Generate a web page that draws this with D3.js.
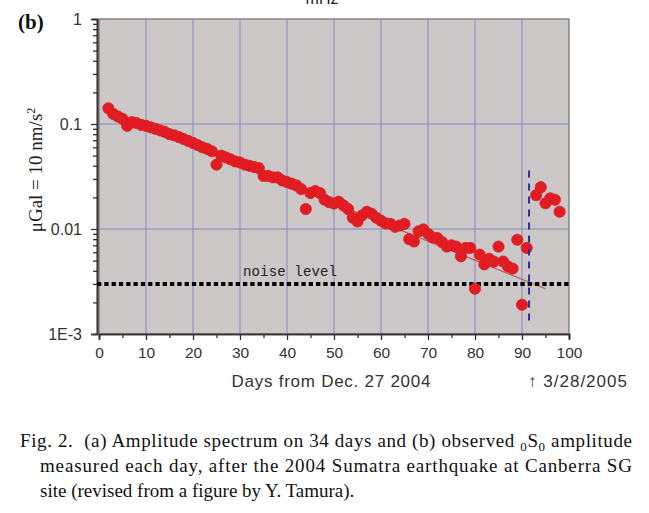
<!DOCTYPE html>
<html><head><meta charset="utf-8">
<script src="https://cdn.jsdelivr.net/npm/d3@7"></script>
<style>
html,body{margin:0;padding:0;background:#fff;}
svg{display:block;}
</style></head>
<body>
<svg id="chart" width="649" height="513"></svg>
<script>
// ---- data ----
const days = [2,3,4,5,6,7,8,9,10,11,12,13,14,15,16,17,18,19,20,21,22,23,24,25,26,27,28,29,30,31,32,33,34,35,36,37,38,39,40,41,42,43,44,45,46,47,48,49,50,51,52,53,54,55,56,57,58,59,60,61,62,63,64,65,66,67,68,69,70,71,72,73,74,75,76,77,78,79,80,81,82,83,84,85,86,87,88,89,90,91,93,94,95,96,97,98];
const amplitudes = [0.141,0.125,0.118,0.112,0.096,0.104,0.102,0.098,0.096,0.093,0.090,0.087,0.084,0.080,0.078,0.075,0.072,0.069,0.066,0.063,0.060,0.058,0.055,0.041,0.050,0.048,0.046,0.044,0.043,0.041,0.040,0.039,0.038,0.032,0.032,0.031,0.031,0.029,0.028,0.027,0.026,0.024,0.0155,0.022,0.023,0.022,0.019,0.018,0.0175,0.0182,0.0168,0.0155,0.0128,0.0118,0.0135,0.0146,0.0140,0.0128,0.0120,0.0113,0.0112,0.0105,0.0108,0.0112,0.0080,0.0076,0.0095,0.0099,0.0090,0.0083,0.0082,0.0075,0.0068,0.0070,0.0068,0.0055,0.0066,0.0066,0.0027,0.0057,0.0046,0.0052,0.0049,0.0068,0.0049,0.0044,0.0042,0.0079,0.0019,0.0066,0.021,0.025,0.0176,0.0196,0.019,0.0146];
const fitDays = [2, 95];
const fitValues = [0.13, 0.0027];
const noiseLevel = 0.003;
const markerDay = 91.5;
const markerRange = [0.00127, 0.036];
const xTicks = [0,10,20,30,40,50,60,70,80,90,100];
const xMinorTicks = [5,15,25,35,45,55,65,75,85,95];
const yTicks = [1, 0.1, 0.01, 0.001];
const yTickLabels = ["1", "0.1", "0.01", "1E-3"];
const yMinorTicks = [2,3,4,5,6,7,8,9].flatMap(m => [m*0.001, m*0.01, m*0.1]);

const svg = d3.select("#chart");
const x = d3.scaleLinear().domain([0,100]).range([99,569]);
const y = d3.scaleLog().domain([0.001,1]).range([334,19]);

// partial top text (cut off at the top edge in the original)
svg.append("text").attr("x",322).attr("y",4).attr("text-anchor","middle")
  .attr("font-family","Liberation Sans, Arial, sans-serif").attr("font-size",16).attr("fill","#222").text("mHz");

// plot background
svg.append("rect").attr("x",x(0)).attr("y",y(1)).attr("width",x(100)-x(0)).attr("height",y(0.001)-y(1))
  .attr("fill","#ccc8c8").attr("stroke","#6e6e6e").attr("stroke-width",1.2);

// grid
const grid = svg.append("g");
grid.selectAll("line.gx").data(xTicks.filter(d=>d>0&&d<100)).join("line")
  .attr("x1",d=>x(d)).attr("x2",d=>x(d)).attr("y1",y(1)).attr("y2",y(0.001))
  .attr("stroke","#8686c4").attr("stroke-width",1);
grid.selectAll("line.gy").data([0.1,0.01]).join("line")
  .attr("x1",x(0)).attr("x2",x(100)).attr("y1",d=>y(d)).attr("y2",d=>y(d))
  .attr("stroke","#8686c4").attr("stroke-width",1);

// axes
const fontTick = "Liberation Sans, Arial, sans-serif";
const yAxisMajor = d3.axisLeft(y).tickValues(yTicks).tickFormat((d,i)=>yTickLabels[i]).tickSize(6).tickPadding(9);
const yAxisMinor = d3.axisLeft(y).tickValues(yMinorTicks).tickFormat("").tickSize(4);
const gyMin = svg.append("g").attr("transform","translate(97,0)").call(yAxisMinor);
const gy = svg.append("g").attr("transform","translate(97,0)").call(yAxisMajor);
[gy,gyMin].forEach(g=>{
  g.select(".domain").attr("stroke","#333").attr("stroke-width",1.6);
  g.selectAll(".tick line").attr("stroke","#333").attr("stroke-width",1.3);
});
gy.selectAll(".tick text").attr("font-family",fontTick).attr("font-size",16).attr("fill","#333");

const xAxisMajor = d3.axisBottom(x).tickValues(xTicks).tickFormat(d3.format("d")).tickSize(6).tickPadding(7);
const xAxisMinor = d3.axisBottom(x).tickValues(xMinorTicks).tickFormat("").tickSize(4);
const gxMin = svg.append("g").attr("transform","translate(0,334)").call(xAxisMinor);
const gx = svg.append("g").attr("transform","translate(0,334)").call(xAxisMajor);
[gx,gxMin].forEach(g=>{
  g.select(".domain").attr("stroke","#333").attr("stroke-width",1.6);
  g.selectAll(".tick line").attr("stroke","#333").attr("stroke-width",1.3);
});
gx.selectAll(".tick text").attr("font-family",fontTick).attr("font-size",15.5).attr("fill","#333");

// fit line
const line = d3.line().x((d,i)=>x(fitDays[i])).y(d=>y(d));
svg.append("path").attr("d",line(fitValues)).attr("fill","none").attr("stroke","#b85a5a").attr("stroke-width",1.2);

// noise level
svg.append("line").attr("x1",97).attr("x2",x(100)).attr("y1",y(noiseLevel)).attr("y2",y(noiseLevel))
  .attr("stroke","#000").attr("stroke-width",4).attr("stroke-dasharray","4.3,3");
svg.append("text").attr("x",243).attr("y",y(noiseLevel)-8)
  .attr("font-family","Liberation Mono, DejaVu Sans Mono, monospace").attr("font-size",14).attr("fill","#222")
  .attr("textLength",94).text("noise level");

// points
svg.append("g").selectAll("circle").data(amplitudes).join("circle")
  .attr("cx",(d,i)=>x(days[i])).attr("cy",d=>y(d)).attr("r",5.6)
  .attr("fill","#e31b23").attr("stroke","#d42020").attr("stroke-width",0.8);

// vertical dashed marker
svg.append("line").attr("x1",x(markerDay)).attr("x2",x(markerDay)).attr("y1",y(markerRange[1])).attr("y2",y(markerRange[0]))
  .attr("stroke","#2d2d9a").attr("stroke-width",2).attr("stroke-dasharray","7,6");

// labels
svg.append("text").attr("x",18).attr("y",29).attr("font-family","Liberation Serif, Times New Roman, serif")
  .attr("font-weight","bold").attr("font-size",21).attr("fill","#111").text("(b)");

const yl = svg.append("text").attr("transform","translate(42,170) rotate(-90)").attr("text-anchor","middle")
  .attr("font-family","Liberation Serif, Times New Roman, serif").attr("font-size",19).attr("fill","#222");
yl.append("tspan").text("μGal = 10 nm/s");
yl.append("tspan").attr("dy",-7).attr("font-size",12).text("2");

svg.append("text").attr("x",331).attr("y",387).attr("text-anchor","middle")
  .attr("font-family",fontTick).attr("font-size",17).attr("fill","#333").attr("textLength",199).text("Days from Dec. 27 2004");
svg.append("text").attr("x",528).attr("y",387)
  .attr("font-family",fontTick).attr("font-size",17).attr("fill","#333").attr("textLength",99).text("↑ 3/28/2005");

// caption
const serif = "Liberation Serif, Times New Roman, serif";
const c1 = svg.append("text").attr("x",20).attr("y",447).attr("font-family",serif).attr("font-size",19).attr("fill","#111")
  .attr("textLength",612).attr("lengthAdjust","spacing");
c1.append("tspan").text("Fig. 2.\u00A0\u00A0(a) Amplitude spectrum on 34 days and (b) observed ");
c1.append("tspan").attr("font-size",13).attr("dy",4).text("0");
c1.append("tspan").attr("dy",-4).text("S");
c1.append("tspan").attr("font-size",13).attr("dy",4).text("0");
c1.append("tspan").attr("dy",-4).text(" amplitude");
svg.append("text").attr("x",40).attr("y",472).attr("font-family",serif).attr("font-size",19).attr("fill","#111")
  .attr("textLength",592).attr("lengthAdjust","spacing").text("measured each day, after the 2004 Sumatra earthquake at Canberra SG");
svg.append("text").attr("x",40).attr("y",497).attr("font-family",serif).attr("font-size",19).attr("fill","#111")
  .text("site (revised from a figure by Y. Tamura).");
</script>
</body></html>
